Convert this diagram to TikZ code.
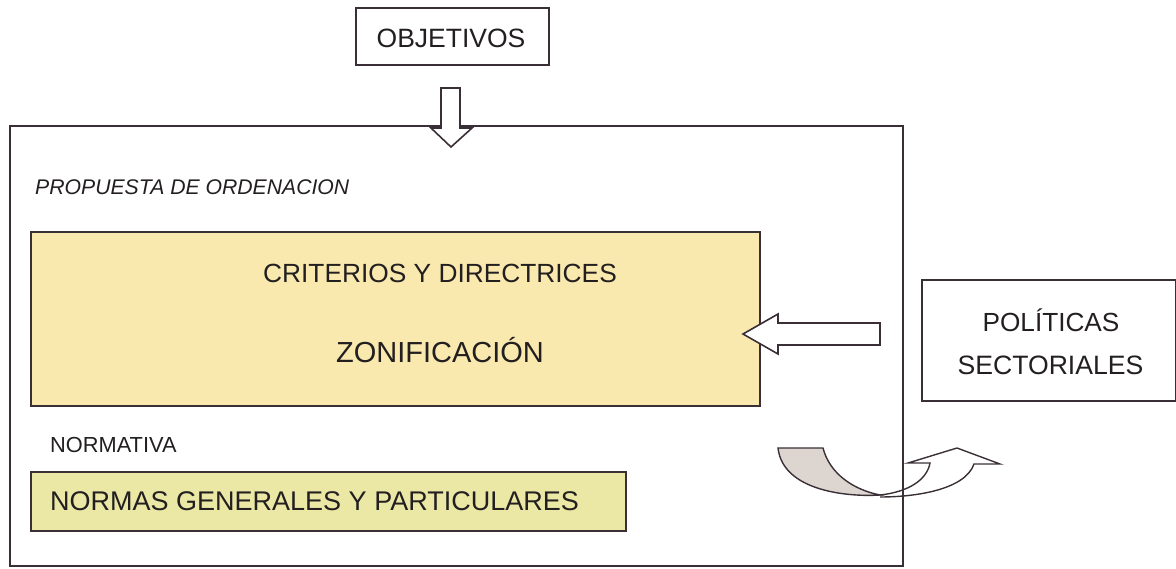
\documentclass[tikz,border=0pt]{standalone}
\usepackage{fontspec}
\setmainfont{Liberation Sans}
\definecolor{ln}{HTML}{3A2F36}
\definecolor{tx}{HTML}{231F20}
\definecolor{yel}{HTML}{F9E9AE}
\definecolor{grn}{HTML}{EBE8A6}
\definecolor{gry}{HTML}{DDD5D0}
\begin{document}
\begin{tikzpicture}[x=1pt,y=-1pt,
  frame/.style={draw=ln,line width=1.6pt},
  txt/.style={text=tx,inner sep=0pt,anchor=base},
  blk/.style={draw=ln,line width=1.6pt,line join=miter}]
\useasboundingbox (0,0) rectangle (1176,568);
% boxes
\draw[frame] (356,8) rectangle (549,65);
\node[txt,font=\fontsize{26.5}{30}\selectfont] (obj) at (451,47) {OBJETIVOS};
\draw[frame,line width=1.3pt] (10,126) rectangle (903,566);
\node[txt,anchor=base west,font=\fontsize{21.2}{24}\selectfont\itshape] (prop) at (35,194) {PROPUESTA DE ORDENACION};
\draw[frame,fill=yel] (31,232) rectangle (760,406);
\node[txt,font=\fontsize{26.3}{30}\selectfont] (crit) at (440,282) {CRITERIOS Y DIRECTRICES};
\node[txt,font=\fontsize{29}{34}\selectfont] (zon) at (440,362) {ZONIFICACIÓN};
\draw[frame] (922,280) rectangle (1175.5,401);
\node[txt,font=\fontsize{26.2}{30}\selectfont] (pol) at (1051,331) {POLÍTICAS};
\node[txt,font=\fontsize{26.6}{30}\selectfont] (sec) at (1050.5,374) {SECTORIALES};
\node[txt,anchor=base west,font=\fontsize{21.8}{25}\selectfont] (norm) at (50,452) {NORMATIVA};
\draw[frame,fill=grn] (31,472) rectangle (626,531);
\node[txt,anchor=base west,font=\fontsize{27}{30}\selectfont] (ngp) at (50,510) {NORMAS GENERALES Y PARTICULARES};
% down block arrow
\draw[blk,fill=white] (441,88) -- (460,88) -- (460,128) -- (472,128) -- (451,147) -- (431,128) -- (441,128) -- cycle;
% left block arrow
\draw[blk,fill=white] (880,323) -- (778,323) -- (778,314) -- (743,334) -- (778,354) -- (778,345) -- (880,345) -- cycle;
% curved arrow: grey part
\draw[blk,fill=gry,line width=1.4pt] (778,448) -- (823,448) .. controls (830,475) and (855,490) .. (880,495)
  .. controls (850,497) and (783,492) .. (778,448) -- cycle;
% curved arrow: white part
\draw[blk,line width=1.4pt] (880,495) .. controls (908,492) and (927,480) .. (930,463) -- (908,463) -- (957,448) -- (1000,464) -- (974,464)
  .. controls (965,490) and (915,497) .. (880,497);
\end{tikzpicture}
\end{document}
